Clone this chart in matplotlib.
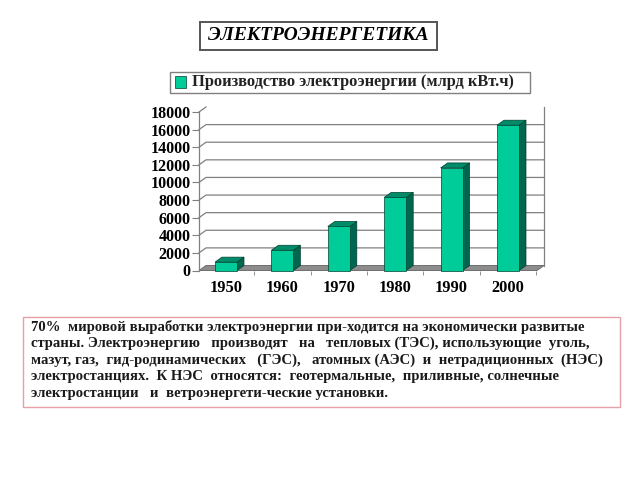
import matplotlib
matplotlib.use("Agg")
import matplotlib.pyplot as plt
from matplotlib.patches import Polygon, Rectangle
import numpy as np

years = ["1950", "1960", "1970", "1980", "1990", "2000"]
production = [950, 2300, 5000, 8300, 11650, 16500]
yticks = [0, 2000, 4000, 6000, 8000, 10000, 12000, 14000, 16000, 18000]
legend_label = "Производство электроэнергии (млрд кВт.ч)"
title_text = "ЭЛЕКТРОЭНЕРГЕТИКА"
body_lines = [
    "70%  мировой выработки электроэнергии при-ходится на экономически развитые",
    "страны. Электроэнергию   производят   на   тепловых (ТЭС), использующие  уголь,",
    "мазут, газ,  гид-родинамических   (ГЭС),   атомных (АЭС)  и  нетрадиционных  (НЭС)",
    "электростанциях.  К НЭС  относятся:  геотермальные,  приливные, солнечные",
    "электростанции   и  ветроэнергети-ческие установки.",
]

W, H = 640, 480
fig = plt.figure(figsize=(6.4, 4.8), dpi=100)
serif = ["Liberation Serif", "DejaVu Serif"]

# axes = front plane
x0px, x1px = 199, 544
y0px, y1px = 270.5, 112.0
ax = fig.add_axes([x0px / W, 1 - y0px / H, (x1px - x0px) / W, (y0px - y1px) / H])
cat_w = 56.4
L = -(226 - x0px) / cat_w
R = (x1px - 226) / cat_w
ax.set_xlim(L, R)
ax.set_ylim(0, 18000)
pxy = 18000 / (y0px - y1px)
dx = 7 / cat_w
dy = 5 * pxy

grid_c = "#808080"
# back wall gridlines
for g in yticks[1:-1]:
    ax.plot([L, L + dx, R], [g, g + dy, g + dy], color=grid_c, lw=0.9, clip_on=False, zorder=1)
ax.plot([L, L + dx], [18000, 18000 + dy], color=grid_c, lw=0.9, clip_on=False, zorder=1)
ax.plot([R, R], [dy, 18000 + dy], color=grid_c, lw=0.9, clip_on=False, zorder=1)

# floor
floor = Polygon([(L, 0), (R - dx, 0), (R, dy), (L + dx, dy)], closed=True,
                facecolor="#8c8c8c", edgecolor="#606060", lw=0.6, clip_on=False, zorder=2)
ax.add_patch(floor)

x = np.arange(len(years))
bw = 22 / cat_w
front_c = "#00CC99"
side_c = "#00664D"
top_c = "#008C69"
edge_c = "#00402F"
bars = ax.bar(x, production, width=bw, color=front_c, edgecolor=edge_c, linewidth=0.5, zorder=4, clip_on=False)
for xi, v in zip(x, production):
    xl, xr = xi - bw / 2, xi + bw / 2
    ax.add_patch(Polygon([(xr, 0), (xr + dx, dy), (xr + dx, v + dy), (xr, v)], closed=True,
                         facecolor=side_c, edgecolor=edge_c, lw=0.5, zorder=3, clip_on=False))
    ax.add_patch(Polygon([(xl, v), (xl + dx, v + dy), (xr + dx, v + dy), (xr, v)], closed=True,
                         facecolor=top_c, edgecolor=edge_c, lw=0.5, zorder=3, clip_on=False))

for s in ["top", "right", "bottom"]:
    ax.spines[s].set_visible(False)
ax.spines["left"].set_color(grid_c)
ax.spines["left"].set_linewidth(0.9)
ax.set_yticks(yticks)
ax.set_yticklabels([str(t) for t in yticks], fontfamily=serif, fontweight="bold", fontsize=11.5)
ax.tick_params(axis="y", length=5, color=grid_c, pad=1)
ax.set_xticks(x)
ax.set_xticklabels(years, fontfamily=serif, fontweight="bold", fontsize=11.8)
ax.tick_params(axis="x", length=0, pad=7)
ax.set_xticks(np.arange(len(years)) + 0.5, minor=True)
ax.tick_params(axis="x", which="minor", length=3, color=grid_c)
ax.patch.set_visible(False)

def fx(px):
    return px / W

def fy(py):
    return 1 - py / H

# legend box
fig.patches.append(Rectangle((fx(170), fy(93)), (530 - 170) / W, (93 - 72) / H,
                             transform=fig.transFigure, facecolor="white", edgecolor="#808080", lw=1.0))
fig.patches.append(Rectangle((fx(175), fy(87.5)), 11 / W, 11 / H, transform=fig.transFigure,
                             facecolor=front_c, edgecolor=edge_c, lw=0.5))
fig.text(fx(192), fy(82.5), legend_label, fontfamily=serif, fontweight="bold", fontsize=11.8,
         va="center", ha="left", color="#222222")

# title box
fig.patches.append(Rectangle((fx(200), fy(50)), (437 - 200) / W, (50 - 22) / H,
                             transform=fig.transFigure, facecolor="white", edgecolor="#555555", lw=1.4))
fig.text(fx(318.5), fy(36), title_text, fontfamily=serif, fontweight="bold", fontstyle="italic",
         fontsize=14, va="center", ha="center", color="black")

# body text box
fig.patches.append(Rectangle((fx(23), fy(407)), (620 - 23) / W, (407 - 317) / H,
                             transform=fig.transFigure, facecolor="white", edgecolor="#E8A0A8", lw=1.0))
for i, line in enumerate(body_lines):
    fig.text(fx(31), fy(327 + i * 16.6), line, fontfamily=serif, fontweight="bold", fontsize=10.6,
             va="center", ha="left", color="#1a1a1a")

fig.savefig("out.png", dpi=100)
